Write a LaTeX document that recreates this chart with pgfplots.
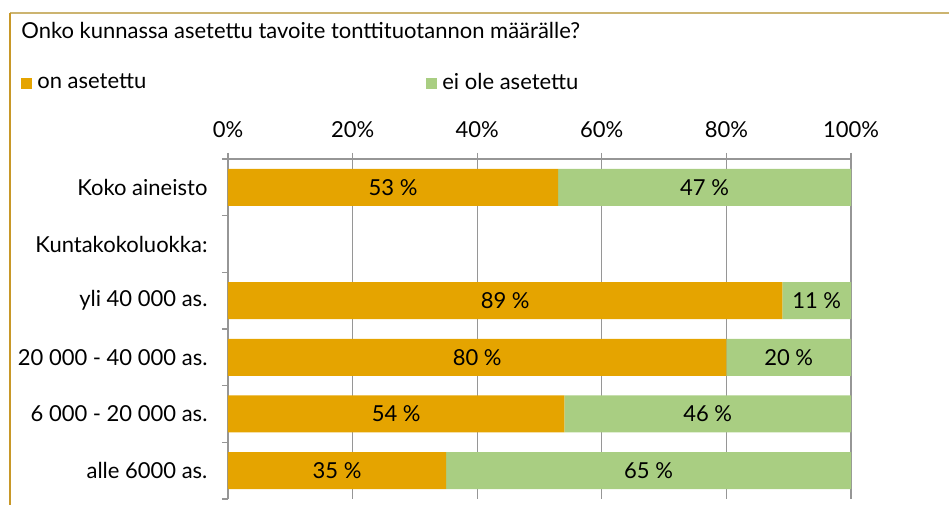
\documentclass[border=0pt]{standalone}
\usepackage{fontspec}
\setmainfont{Lato}
\usepackage{pgfplots}
\pgfplotsset{compat=1.18}

\definecolor{onas}{RGB}{229,164,0}
\definecolor{eiole}{RGB}{169,206,130}
\definecolor{frametop}{RGB}{204,180,112}
\definecolor{frameleft}{RGB}{200,152,40}
\definecolor{axgray}{RGB}{150,150,150}

% y: 5 = Koko aineisto ... 0 = alle 6000 as.
\pgfplotstableread{
y on ei
5 53 47
3 89 11
2 80 20
1 54 46
0 35 65
}\kunnat

\begin{document}
\begin{tikzpicture}
\fontsize{22bp}{26bp}\selectfont
\begin{axis}[
  scale only axis,
  width=623bp, height=340bp,
  xbar stacked,
  bar width=37bp,
  xmin=0, xmax=100,
  ymin=-0.5, ymax=5.5,
  axis x line*=top,
  axis y line*=left,
  axis line style={axgray, line width=1.2pt},
  tick align=outside,
  major tick length=6bp,
  minor tick length=6bp,
  xtick={0,20,...,100},
  xticklabel={\pgfmathprintnumber{\tick}\%},
  x tick style={axgray, line width=1.2pt},
  xmajorgrids,
  grid style={axgray, line width=1.2pt},
  ytick={0,...,5},
  yticklabels={alle 6000 as., 6 000 - 20 000 as., 20 000 - 40 000 as., yli 40 000 as., Kuntakokoluokka:, Koko aineisto},
  major y tick style={draw=none},
  minor ytick={-0.5,0.5,...,5.5},
  minor y tick style={draw=axgray, line width=1.2pt},
  yticklabel style={xshift=-7bp},
  xticklabel style={yshift=8bp},
  /pgf/number format/assume math mode=true,
  tick label style={font=\fontsize{22bp}{26bp}\selectfont},
  point meta=rawx,
  % stacked bars: pgfplots already puts these in the middle of each segment
  nodes near coords={\makebox[0pt]{\pgfmathprintnumber{\pgfplotspointmeta}~\%}},
  every node near coord/.append style={inner sep=0pt, font=\fontsize{22bp}{26bp}\selectfont},
  title={Onko kunnassa asetettu tavoite tonttituotannon määrälle?},
  title style={at={(-0.332,1.361)}, anchor=west, inner sep=0pt, font=\fontsize{22bp}{26bp}\selectfont},
  legend style={at={(-0.332,1.223)}, anchor=west, draw=none, fill=none, inner sep=0pt,
    legend columns=2, font=\fontsize{22bp}{26bp}\selectfont,
    /tikz/every even column/.append style={column sep=278bp}},
  legend image code/.code={\fill[#1] (0bp,-5.5bp) rectangle (11bp,5.5bp); \path (14bp,0bp);},
]
\addplot[draw=none, fill=onas] table[x=on, y=y] {\kunnat};
\addplot[draw=none, fill=eiole] table[x=ei, y=y] {\kunnat};
\legend{on asetettu, ei ole asetettu}
\coordinate (bl) at (axis description cs:-0.36597,-0.01765);
\coordinate (tr) at (axis description cs:1.15730,1.46765);
\coordinate (fc) at (axis description cs:-0.34992,1.42941);
\coordinate (fr) at (axis description cs:1.15730,1.42941);
\coordinate (fb) at (axis description cs:-0.34992,-0.01765);
\end{axis}
\draw[frametop, line width=1.5pt] (fc) -- (fr);
\draw[frameleft, line width=1.2pt] (fc) -- (fb);
\pgfresetboundingbox
\useasboundingbox (bl) rectangle (tr);
\end{tikzpicture}
\end{document}
